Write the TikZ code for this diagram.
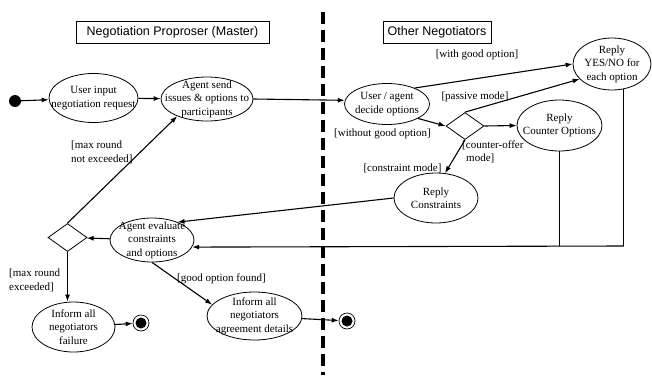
\documentclass[tikz,border=0pt]{standalone}
\usepackage{fontspec}
\setmainfont{Liberation Serif}
\newfontfamily\arialfont{Liberation Sans}
\usetikzlibrary{shapes.geometric,arrows.meta}

\begin{document}
\begin{tikzpicture}[x=1pt, y=-1pt, >={Latex[length=7pt,width=5pt]},
    every node/.style={font=\fontsize{11}{13.5}\selectfont},
    activity/.style={ellipse, draw, line width=0.8pt, inner sep=-30pt, align=center},
    branch/.style={diamond, draw, line width=0.8pt, inner sep=0pt, minimum width=39pt, minimum height=28pt},
    lane/.style={draw, line width=0.7pt, inner sep=0pt, minimum height=22pt, font=\arialfont\fontsize{12.5}{15}\selectfont},
    initial/.style={circle, fill, inner sep=0pt, minimum size=12pt},
    final/.style={circle, draw, line width=0.7pt, inner sep=0pt, minimum size=16pt,
        path picture={\fill (path picture bounding box.center) circle (5.5pt);}},
    guard/.style={inner sep=0pt},
    flow/.style={->, line width=1.1pt}]
    \useasboundingbox (0,0) rectangle (652,375);

    % Swimlane headers and divider
    \node[lane, minimum width=193pt] (master) at (172.5,32) {Negotiation Proproser (Master)};
    \node[lane, minimum width=108pt] (others) at (437,32.5) {Other Negotiators};
    \draw[line width=4pt, dash pattern=on 12pt off 6pt] (323,12) -- (323,375);

    % Proposer side
    \node[initial] (start) at (15,101) {};
    \node[activity, minimum width=89pt, minimum height=49pt] (input) at (93.5,98) {User input\\negotiation request};
    \node[activity, minimum width=92pt, minimum height=44pt] (send) at (207,99) {Agent send\\issues \& options to\\participants};
    \node[activity, minimum width=84pt, minimum height=44pt] (evaluate) at (152,240) {Agent evaluate\\constraints\\and options};
    \node[branch] (choice) at (67.5,237.5) {};
    \node[activity, minimum width=83pt, minimum height=50pt] (fail) at (73.5,327) {Inform all\\negotiators\\failure};
    \node[final] (failend) at (141,323) {};
    \node[activity, minimum width=95pt, minimum height=48pt] (agree) at (254.5,316) {Inform all\\negotiators\\agreement details};
    \node[final] (agreeend) at (347,321) {};

    % Negotiator side
    \node[activity, minimum width=85pt, minimum height=41pt] (decide) at (387,104) {User / agent\\decide options};
    \node[branch, minimum width=38pt, minimum height=27pt] (mode) at (465,126) {};
    \node[activity, minimum width=78pt, minimum height=52pt] (yesno) at (612,64) {Reply\\YES/NO for\\each option};
    \node[activity, minimum width=85pt, minimum height=51pt] (counter) at (559.5,125.5) {Reply\\Counter Options};
    \node[activity, minimum width=84pt, minimum height=50pt] (constr) at (436,198) {Reply\\Constraints};

    % Flows
    \draw[flow] (start) -- (input);
    \draw[flow] (input) -- (send);
    \draw[flow] (send.east) -- (decide.175);
    \draw[flow] (decide.30) -- (yesno.west);
    \draw[flow] (decide.-25) -- (mode.west);
    \draw[flow] (mode.north) -- (yesno.205);
    \draw[flow] (mode.east) -- (counter.west);
    \draw[flow] (mode.south) -- (constr.70);
    \draw[flow] (constr.west) -- (evaluate.35);
    \coordinate (back) at (624,246);
    \draw[line width=0.6pt] (yesno.-65) -- (yesno.-65 |- back);
    \draw[line width=0.6pt] (counter.south) -- (counter.south |- back);
    \draw[flow] (yesno.-65 |- back) -- (evaluate.-10);
    \draw[flow] (evaluate) -- (choice);
    \draw[flow] (choice.north) -- (send.-150);
    \draw[flow] (choice.south) -- (choice.south |- fail.north);
    \draw[flow] (evaluate.south) -- (agree.165);
    \draw[flow] (fail) -- (failend);
    \draw[flow] (agree) -- (agreeend);

    % Guards
    \node[guard, align=left, anchor=west] (notexceeded) at (71,152.5) {[max round\\not exceeded]};
    \node[guard, align=left, anchor=west] (exceeded) at (9,280.5) {[max round\\exceeded]};
    \node[guard, anchor=west] (found) at (177,279) {[good option found]};
    \node[guard] (withgood) at (477,55) {[with good option]};
    \node[guard] (passive) at (475,97) {[passive mode]};
    \node[guard] (withoutgood) at (382.5,134) {[without good option]};
    \node[guard, align=left, anchor=west] (counteroffer) at (462,152) {[counter-offer\\\hspace{4pt}mode]};
    \node[guard] (constraint) at (402.5,168) {[constraint mode]};
\end{tikzpicture}
\end{document}
